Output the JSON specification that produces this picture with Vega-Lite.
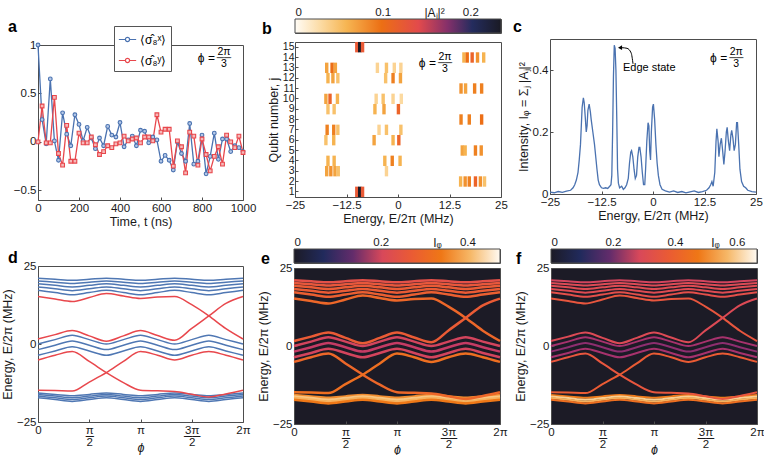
{
  "$schema": "https://vega.github.io/schema/vega-lite/v6.json",
  "background": "white",
  "padding": {"left": 0, "top": 5, "right": 0, "bottom": 1},
  "config": {
    "font": "Liberation Sans",
    "view": {"stroke": "#4d4d4d", "strokeWidth": 1},
    "axis": {"grid": false, "domain": false, "labelFlush": false, "tickSize": -3, "tickColor": "#4d4d4d", "labelPadding": 5, "labelFontSize": 11.5, "labelColor": "#1a1a1a", "titleFontSize": 12.5, "titleFontWeight": "normal", "titleColor": "#1a1a1a", "titlePadding": 2},
    "legend": {"labelFontSize": 12}
  },
  "datasets": {
    "ts": [
      {"t":0,"v":1.0,"s":"x"},{"t":20,"v":0.23,"s":"x"},{"t":40,"v":-0.02,"s":"x"},{"t":60,"v":0.65,"s":"x"},{"t":80,"v":0.01,"s":"x"},{"t":100,"v":-0.19,"s":"x"},{"t":120,"v":0.3,"s":"x"},{"t":140,"v":0.08,"s":"x"},{"t":160,"v":-0.04,"s":"x"},{"t":180,"v":0.28,"s":"x"},{"t":200,"v":0.18,"s":"x"},{"t":220,"v":0.01,"s":"x"},{"t":240,"v":0.15,"s":"x"},{"t":260,"v":0.04,"s":"x"},{"t":280,"v":-0.07,"s":"x"},{"t":300,"v":0.04,"s":"x"},{"t":320,"v":-0.04,"s":"x"},{"t":340,"v":0.16,"s":"x"},{"t":360,"v":0.07,"s":"x"},{"t":380,"v":0.05,"s":"x"},{"t":400,"v":0.2,"s":"x"},{"t":420,"v":-0.05,"s":"x"},{"t":440,"v":0.02,"s":"x"},{"t":460,"v":0.06,"s":"x"},{"t":480,"v":-0.04,"s":"x"},{"t":500,"v":0.12,"s":"x"},{"t":520,"v":0.11,"s":"x"},{"t":540,"v":-0.01,"s":"x"},{"t":560,"v":0.05,"s":"x"},{"t":580,"v":0.02,"s":"x"},{"t":600,"v":-0.2,"s":"x"},{"t":620,"v":-0.14,"s":"x"},{"t":640,"v":-0.19,"s":"x"},{"t":660,"v":-0.29,"s":"x"},{"t":680,"v":0.0,"s":"x"},{"t":700,"v":-0.12,"s":"x"},{"t":720,"v":-0.2,"s":"x"},{"t":740,"v":0.19,"s":"x"},{"t":760,"v":-0.23,"s":"x"},{"t":780,"v":-0.2,"s":"x"},{"t":800,"v":0.07,"s":"x"},{"t":820,"v":-0.33,"s":"x"},{"t":840,"v":-0.15,"s":"x"},{"t":860,"v":0.09,"s":"x"},{"t":880,"v":-0.18,"s":"x"},{"t":900,"v":0.03,"s":"x"},{"t":920,"v":0.03,"s":"x"},{"t":940,"v":-0.1,"s":"x"},{"t":960,"v":-0.04,"s":"x"},{"t":980,"v":-0.06,"s":"x"},{"t":1000,"v":-0.1,"s":"x"},
      {"t":0,"v":0.0,"s":"y"},{"t":20,"v":0.37,"s":"y"},{"t":40,"v":-0.01,"s":"y"},{"t":60,"v":-0.01,"s":"y"},{"t":80,"v":0.46,"s":"y"},{"t":100,"v":-0.12,"s":"y"},{"t":120,"v":-0.24,"s":"y"},{"t":140,"v":0.17,"s":"y"},{"t":160,"v":-0.2,"s":"y"},{"t":180,"v":-0.2,"s":"y"},{"t":200,"v":0.09,"s":"y"},{"t":220,"v":-0.01,"s":"y"},{"t":240,"v":-0.01,"s":"y"},{"t":260,"v":0.05,"s":"y"},{"t":280,"v":-0.03,"s":"y"},{"t":300,"v":-0.13,"s":"y"},{"t":320,"v":-0.1,"s":"y"},{"t":340,"v":-0.04,"s":"y"},{"t":360,"v":-0.06,"s":"y"},{"t":380,"v":-0.02,"s":"y"},{"t":400,"v":-0.01,"s":"y"},{"t":420,"v":0.06,"s":"y"},{"t":440,"v":0.01,"s":"y"},{"t":460,"v":0.03,"s":"y"},{"t":480,"v":0.04,"s":"y"},{"t":500,"v":-0.01,"s":"y"},{"t":520,"v":0.05,"s":"y"},{"t":540,"v":0.05,"s":"y"},{"t":560,"v":0.01,"s":"y"},{"t":580,"v":0.28,"s":"y"},{"t":600,"v":0.1,"s":"y"},{"t":620,"v":0.13,"s":"y"},{"t":640,"v":0.13,"s":"y"},{"t":660,"v":-0.25,"s":"y"},{"t":680,"v":0.01,"s":"y"},{"t":700,"v":-0.05,"s":"y"},{"t":720,"v":-0.32,"s":"y"},{"t":740,"v":0.1,"s":"y"},{"t":760,"v":0.06,"s":"y"},{"t":780,"v":-0.24,"s":"y"},{"t":800,"v":0.03,"s":"y"},{"t":820,"v":-0.13,"s":"y"},{"t":840,"v":-0.3,"s":"y"},{"t":860,"v":-0.15,"s":"y"},{"t":880,"v":-0.05,"s":"y"},{"t":900,"v":-0.23,"s":"y"},{"t":920,"v":0.07,"s":"y"},{"t":940,"v":0.0,"s":"y"},{"t":960,"v":-0.06,"s":"y"},{"t":980,"v":0.06,"s":"y"},{"t":1000,"v":-0.11,"s":"y"}
    ],
    "heat": [
      {"j":15,"e":-10.0,"v":0.12},{"j":15,"e":-9.3,"v":0.235},{"j":15,"e":-8.6,"v":0.12},
      {"j":14,"e":16.0,"v":0.06},{"j":14,"e":16.8,"v":0.1},{"j":14,"e":18.0,"v":0.11},{"j":14,"e":19.3,"v":0.08},{"j":14,"e":20.8,"v":0.06},
      {"j":13,"e":-17.3,"v":0.07},{"j":13,"e":-16.0,"v":0.1},{"j":13,"e":-15.2,"v":0.07},{"j":13,"e":-5.0,"v":0.035},{"j":13,"e":-2.8,"v":0.05},{"j":13,"e":-0.9,"v":0.035},{"j":13,"e":0.7,"v":0.035},
      {"j":12,"e":-17.0,"v":0.06},{"j":12,"e":-15.8,"v":0.07},{"j":12,"e":-14.6,"v":0.05},{"j":12,"e":-3.0,"v":0.05},{"j":12,"e":-1.2,"v":0.09},{"j":12,"e":0.6,"v":0.07},
      {"j":11,"e":15.3,"v":0.08},{"j":11,"e":16.4,"v":0.07},{"j":11,"e":18.6,"v":0.09},{"j":11,"e":20.3,"v":0.09},
      {"j":10,"e":-17.5,"v":0.07},{"j":10,"e":-16.5,"v":0.11},{"j":10,"e":-14.7,"v":0.06},{"j":10,"e":-5.3,"v":0.035},{"j":10,"e":-3.6,"v":0.05},{"j":10,"e":-1.2,"v":0.035},{"j":10,"e":0.8,"v":0.03},
      {"j":9,"e":-17.0,"v":0.05},{"j":9,"e":-15.5,"v":0.05},{"j":9,"e":-5.6,"v":0.06},{"j":9,"e":-3.4,"v":0.07},{"j":9,"e":0.1,"v":0.11},
      {"j":8,"e":15.3,"v":0.09},{"j":8,"e":17.3,"v":0.09},{"j":8,"e":20.3,"v":0.1},
      {"j":7,"e":-17.2,"v":0.09},{"j":7,"e":-15.6,"v":0.09},{"j":7,"e":-14.6,"v":0.05},{"j":7,"e":-4.6,"v":0.035},{"j":7,"e":-2.8,"v":0.05},{"j":7,"e":0.7,"v":0.05},
      {"j":6,"e":-17.5,"v":0.05},{"j":6,"e":-15.6,"v":0.06},{"j":6,"e":-5.8,"v":0.07},{"j":6,"e":-1.2,"v":0.06},{"j":6,"e":0.2,"v":0.11},
      {"j":5,"e":15.6,"v":0.07},{"j":5,"e":16.3,"v":0.06},{"j":5,"e":18.8,"v":0.09},{"j":5,"e":20.2,"v":0.08},
      {"j":4,"e":-17.0,"v":0.06},{"j":4,"e":-15.5,"v":0.06},{"j":4,"e":-3.2,"v":0.06},{"j":4,"e":-1.4,"v":0.09},{"j":4,"e":0.5,"v":0.06},
      {"j":3,"e":-17.3,"v":0.07},{"j":3,"e":-16.3,"v":0.08},{"j":3,"e":-15.3,"v":0.07},{"j":3,"e":-14.5,"v":0.05},{"j":3,"e":-2.8,"v":0.035},
      {"j":2,"e":15.2,"v":0.06},{"j":2,"e":16.3,"v":0.08},{"j":2,"e":17.3,"v":0.09},{"j":2,"e":18.8,"v":0.11},{"j":2,"e":20.0,"v":0.08},{"j":2,"e":21.0,"v":0.05},
      {"j":1,"e":-10.0,"v":0.12},{"j":1,"e":-9.3,"v":0.235},{"j":1,"e":-8.6,"v":0.12}
    ],
    "spec": [
      {"E":-25,"I":0.006},{"E":-24,"I":0.004},{"E":-23,"I":0.008},{"E":-22,"I":0.005},{"E":-21,"I":0.009},{"E":-20,"I":0.012},{"E":-19.4,"I":0.02},{"E":-19,"I":0.03},{"E":-18.6,"I":0.045},{"E":-18.2,"I":0.07},{"E":-17.9,"I":0.11},{"E":-17.6,"I":0.16},{"E":-17.4,"I":0.22},{"E":-17.2,"I":0.28},{"E":-16.9,"I":0.31},{"E":-16.7,"I":0.295},{"E":-16.4,"I":0.24},{"E":-16.2,"I":0.2},{"E":-16.0,"I":0.22},{"E":-15.8,"I":0.27},{"E":-15.5,"I":0.29},{"E":-15.2,"I":0.265},{"E":-15.0,"I":0.24},{"E":-14.6,"I":0.2},{"E":-14.2,"I":0.16},{"E":-13.9,"I":0.12},{"E":-13.6,"I":0.08},{"E":-13.3,"I":0.045},{"E":-13.0,"I":0.03},{"E":-12.5,"I":0.02},{"E":-12,"I":0.018},{"E":-11.5,"I":0.02},{"E":-11,"I":0.018},{"E":-10.5,"I":0.025},{"E":-10.2,"I":0.03},{"E":-10.0,"I":0.06},{"E":-9.8,"I":0.2},{"E":-9.6,"I":0.38},{"E":-9.4,"I":0.48},{"E":-9.2,"I":0.47},{"E":-9.0,"I":0.4},{"E":-8.8,"I":0.25},{"E":-8.6,"I":0.08},{"E":-8.4,"I":0.035},{"E":-8.1,"I":0.02},{"E":-7.6,"I":0.025},{"E":-7.2,"I":0.015},{"E":-6.8,"I":0.02},{"E":-6.4,"I":0.03},{"E":-6.0,"I":0.05},{"E":-5.7,"I":0.1},{"E":-5.4,"I":0.135},{"E":-5.2,"I":0.14},{"E":-4.9,"I":0.12},{"E":-4.6,"I":0.08},{"E":-4.3,"I":0.05},{"E":-4.0,"I":0.06},{"E":-3.7,"I":0.12},{"E":-3.4,"I":0.15},{"E":-3.2,"I":0.15},{"E":-2.9,"I":0.12},{"E":-2.6,"I":0.07},{"E":-2.3,"I":0.03},{"E":-2.0,"I":0.03},{"E":-1.8,"I":0.08},{"E":-1.5,"I":0.17},{"E":-1.2,"I":0.23},{"E":-1.0,"I":0.22},{"E":-0.8,"I":0.14},{"E":-0.6,"I":0.11},{"E":-0.4,"I":0.2},{"E":-0.1,"I":0.28},{"E":0.1,"I":0.29},{"E":0.4,"I":0.24},{"E":0.7,"I":0.16},{"E":1.0,"I":0.1},{"E":1.3,"I":0.06},{"E":1.7,"I":0.03},{"E":2.2,"I":0.015},{"E":3,"I":0.01},{"E":4,"I":0.006},{"E":5,"I":0.01},{"E":6,"I":0.005},{"E":7,"I":0.008},{"E":8,"I":0.004},{"E":9,"I":0.007},{"E":10,"I":0.01},{"E":11,"I":0.005},{"E":12,"I":0.008},{"E":13,"I":0.012},{"E":13.6,"I":0.02},{"E":14.0,"I":0.03},{"E":14.3,"I":0.04},{"E":14.6,"I":0.025},{"E":15.0,"I":0.07},{"E":15.3,"I":0.17},{"E":15.5,"I":0.21},{"E":15.8,"I":0.17},{"E":16.0,"I":0.12},{"E":16.3,"I":0.16},{"E":16.6,"I":0.18},{"E":16.9,"I":0.14},{"E":17.2,"I":0.095},{"E":17.5,"I":0.14},{"E":17.8,"I":0.2},{"E":18.0,"I":0.215},{"E":18.3,"I":0.17},{"E":18.6,"I":0.14},{"E":18.9,"I":0.19},{"E":19.1,"I":0.205},{"E":19.4,"I":0.18},{"E":19.7,"I":0.14},{"E":20.0,"I":0.16},{"E":20.3,"I":0.23},{"E":20.5,"I":0.23},{"E":20.8,"I":0.16},{"E":21.1,"I":0.08},{"E":21.5,"I":0.04},{"E":22,"I":0.025},{"E":22.5,"I":0.02},{"E":23,"I":0.012},{"E":24,"I":0.008},{"E":25,"I":0.006}
    ],
    "arrow": [
      {"E":-7.6,"I":0.472},{"E":-6.3,"I":0.47},{"E":-5.3,"I":0.455},{"E":-4.85,"I":0.42}
    ],
    "lines": [
      {"n":"t1","kind":"bulk","ie":0.24,"iF":0.28},{"n":"t2","kind":"bulk","ie":0.26,"iF":0.3},{"n":"t3","kind":"bulk","ie":0.27,"iF":0.31},{"n":"t4","kind":"bulk","ie":0.27,"iF":0.31},{"n":"t5","kind":"bulk","ie":0.28,"iF":0.33},
      {"n":"m1","kind":"bulk","ie":0.2,"iF":0.24},{"n":"m2","kind":"bulk","ie":0.19,"iF":0.22},{"n":"m3","kind":"bulk","ie":0.2,"iF":0.24},
      {"n":"b1","kind":"bulk","ie":0.36,"iF":0.48},{"n":"b2","kind":"bulk","ie":0.42,"iF":0.6},{"n":"b3","kind":"bulk","ie":0.4,"iF":0.56},{"n":"b4","kind":"bulk","ie":0.34,"iF":0.45},
      {"n":"A","kind":"edge","ie":0.3,"iF":0.36},{"n":"B","kind":"edge","ie":0.27,"iF":0.3},{"n":"C","kind":"edge","ie":0.3,"iF":0.36},{"n":"D","kind":"edge","ie":0.32,"iF":0.38}
    ],
    "bands": [
      {"n":"t1","k":0,"E":21.1},{"n":"t1","k":1,"E":20.75},{"n":"t1","k":2,"E":20.4},{"n":"t1","k":3,"E":20.75},{"n":"t1","k":4,"E":21.1},{"n":"t1","k":5,"E":20.75},{"n":"t1","k":6,"E":20.4},{"n":"t1","k":7,"E":20.75},{"n":"t1","k":8,"E":21.1},{"n":"t1","k":9,"E":20.75},{"n":"t1","k":10,"E":20.4},{"n":"t1","k":11,"E":20.75},{"n":"t1","k":12,"E":21.1},
      {"n":"t2","k":0,"E":20.2},{"n":"t2","k":1,"E":19.8},{"n":"t2","k":2,"E":19.4},{"n":"t2","k":3,"E":19.8},{"n":"t2","k":4,"E":20.2},{"n":"t2","k":5,"E":19.8},{"n":"t2","k":6,"E":19.4},{"n":"t2","k":7,"E":19.8},{"n":"t2","k":8,"E":20.2},{"n":"t2","k":9,"E":19.8},{"n":"t2","k":10,"E":19.4},{"n":"t2","k":11,"E":19.8},{"n":"t2","k":12,"E":20.2},
      {"n":"t3","k":0,"E":19.3},{"n":"t3","k":1,"E":18.8},{"n":"t3","k":2,"E":18.3},{"n":"t3","k":3,"E":18.8},{"n":"t3","k":4,"E":19.3},{"n":"t3","k":5,"E":18.8},{"n":"t3","k":6,"E":18.3},{"n":"t3","k":7,"E":18.8},{"n":"t3","k":8,"E":19.3},{"n":"t3","k":9,"E":18.8},{"n":"t3","k":10,"E":18.3},{"n":"t3","k":11,"E":18.8},{"n":"t3","k":12,"E":19.3},
      {"n":"t4","k":0,"E":18.3},{"n":"t4","k":1,"E":17.7},{"n":"t4","k":2,"E":17.1},{"n":"t4","k":3,"E":17.7},{"n":"t4","k":4,"E":18.3},{"n":"t4","k":5,"E":17.7},{"n":"t4","k":6,"E":17.1},{"n":"t4","k":7,"E":17.7},{"n":"t4","k":8,"E":18.3},{"n":"t4","k":9,"E":17.7},{"n":"t4","k":10,"E":17.1},{"n":"t4","k":11,"E":17.7},{"n":"t4","k":12,"E":18.3},
      {"n":"t5","k":0,"E":17.2},{"n":"t5","k":1,"E":16.5},{"n":"t5","k":2,"E":15.8},{"n":"t5","k":3,"E":16.5},{"n":"t5","k":4,"E":17.2},{"n":"t5","k":5,"E":16.5},{"n":"t5","k":6,"E":15.8},{"n":"t5","k":7,"E":16.5},{"n":"t5","k":8,"E":17.2},{"n":"t5","k":9,"E":16.5},{"n":"t5","k":10,"E":15.8},{"n":"t5","k":11,"E":16.5},{"n":"t5","k":12,"E":17.2},
      {"n":"m1","k":0,"E":0.0},{"n":"m1","k":1,"E":1.4},{"n":"m1","k":2,"E":2.8},{"n":"m1","k":3,"E":1.4},{"n":"m1","k":4,"E":0.0},{"n":"m1","k":5,"E":1.4},{"n":"m1","k":6,"E":2.8},{"n":"m1","k":7,"E":1.4},{"n":"m1","k":8,"E":0.0},{"n":"m1","k":9,"E":1.4},{"n":"m1","k":10,"E":2.8},{"n":"m1","k":11,"E":1.4},{"n":"m1","k":12,"E":0.0},
      {"n":"m2","k":0,"E":-1.8},{"n":"m2","k":1,"E":-0.4},{"n":"m2","k":2,"E":1.0},{"n":"m2","k":3,"E":-0.4},{"n":"m2","k":4,"E":-1.8},{"n":"m2","k":5,"E":-0.4},{"n":"m2","k":6,"E":1.0},{"n":"m2","k":7,"E":-0.4},{"n":"m2","k":8,"E":-1.8},{"n":"m2","k":9,"E":-0.4},{"n":"m2","k":10,"E":1.0},{"n":"m2","k":11,"E":-0.4},{"n":"m2","k":12,"E":-1.8},
      {"n":"m3","k":0,"E":-3.6},{"n":"m3","k":1,"E":-2.25},{"n":"m3","k":2,"E":-0.9},{"n":"m3","k":3,"E":-2.25},{"n":"m3","k":4,"E":-3.6},{"n":"m3","k":5,"E":-2.25},{"n":"m3","k":6,"E":-0.9},{"n":"m3","k":7,"E":-2.25},{"n":"m3","k":8,"E":-3.6},{"n":"m3","k":9,"E":-2.25},{"n":"m3","k":10,"E":-0.9},{"n":"m3","k":11,"E":-2.25},{"n":"m3","k":12,"E":-3.6},
      {"n":"b1","k":0,"E":-15.7},{"n":"b1","k":1,"E":-16.15},{"n":"b1","k":2,"E":-16.6},{"n":"b1","k":3,"E":-16.15},{"n":"b1","k":4,"E":-15.7},{"n":"b1","k":5,"E":-16.15},{"n":"b1","k":6,"E":-16.6},{"n":"b1","k":7,"E":-16.15},{"n":"b1","k":8,"E":-15.7},{"n":"b1","k":9,"E":-16.15},{"n":"b1","k":10,"E":-16.6},{"n":"b1","k":11,"E":-16.15},{"n":"b1","k":12,"E":-15.7},
      {"n":"b2","k":0,"E":-16.2},{"n":"b2","k":1,"E":-16.7},{"n":"b2","k":2,"E":-17.2},{"n":"b2","k":3,"E":-16.7},{"n":"b2","k":4,"E":-16.2},{"n":"b2","k":5,"E":-16.7},{"n":"b2","k":6,"E":-17.2},{"n":"b2","k":7,"E":-16.7},{"n":"b2","k":8,"E":-16.2},{"n":"b2","k":9,"E":-16.7},{"n":"b2","k":10,"E":-17.2},{"n":"b2","k":11,"E":-16.7},{"n":"b2","k":12,"E":-16.2},
      {"n":"b3","k":0,"E":-16.7},{"n":"b3","k":1,"E":-17.25},{"n":"b3","k":2,"E":-17.8},{"n":"b3","k":3,"E":-17.25},{"n":"b3","k":4,"E":-16.7},{"n":"b3","k":5,"E":-17.25},{"n":"b3","k":6,"E":-17.8},{"n":"b3","k":7,"E":-17.25},{"n":"b3","k":8,"E":-16.7},{"n":"b3","k":9,"E":-17.25},{"n":"b3","k":10,"E":-17.8},{"n":"b3","k":11,"E":-17.25},{"n":"b3","k":12,"E":-16.7},
      {"n":"b4","k":0,"E":-17.2},{"n":"b4","k":1,"E":-17.8},{"n":"b4","k":2,"E":-18.4},{"n":"b4","k":3,"E":-17.8},{"n":"b4","k":4,"E":-17.2},{"n":"b4","k":5,"E":-17.8},{"n":"b4","k":6,"E":-18.4},{"n":"b4","k":7,"E":-17.8},{"n":"b4","k":8,"E":-17.2},{"n":"b4","k":9,"E":-17.8},{"n":"b4","k":10,"E":-18.4},{"n":"b4","k":11,"E":-17.8},{"n":"b4","k":12,"E":-17.2},
      {"n":"A","k":0,"E":15.2},{"n":"A","k":1,"E":14.4},{"n":"A","k":2,"E":13.6},{"n":"A","k":3,"E":14.9},{"n":"A","k":4,"E":16.2},{"n":"A","k":5,"E":15.4},{"n":"A","k":6,"E":14.6},{"n":"A","k":7,"E":15.1},{"n":"A","k":8,"E":15.2},{"n":"A","k":9,"E":12.6},{"n":"A","k":10,"E":9.0},{"n":"A","k":11,"E":4.9},{"n":"A","k":12,"E":1.6},
      {"n":"B","k":0,"E":1.6},{"n":"B","k":1,"E":3.0},{"n":"B","k":2,"E":4.3},{"n":"B","k":3,"E":2.6},{"n":"B","k":4,"E":0.9},{"n":"B","k":5,"E":2.6},{"n":"B","k":6,"E":4.3},{"n":"B","k":7,"E":2.7},{"n":"B","k":8,"E":1.2},{"n":"B","k":9,"E":5.0},{"n":"B","k":10,"E":9.0},{"n":"B","k":11,"E":13.0},{"n":"B","k":12,"E":15.2},
      {"n":"C","k":0,"E":-5.1},{"n":"C","k":1,"E":-3.6},{"n":"C","k":2,"E":-2.4},{"n":"C","k":3,"E":-5.6},{"n":"C","k":4,"E":-9.2},{"n":"C","k":5,"E":-12.4},{"n":"C","k":6,"E":-14.8},{"n":"C","k":7,"E":-15.0},{"n":"C","k":8,"E":-15.2},{"n":"C","k":9,"E":-16.1},{"n":"C","k":10,"E":-17.0},{"n":"C","k":11,"E":-16.0},{"n":"C","k":12,"E":-14.8},
      {"n":"D","k":0,"E":-14.8},{"n":"D","k":1,"E":-14.9},{"n":"D","k":2,"E":-15.1},{"n":"D","k":3,"E":-12.2},{"n":"D","k":4,"E":-9.2},{"n":"D","k":5,"E":-5.6},{"n":"D","k":6,"E":-2.4},{"n":"D","k":7,"E":-3.6},{"n":"D","k":8,"E":-5.1},{"n":"D","k":9,"E":-3.6},{"n":"D","k":10,"E":-2.4},{"n":"D","k":11,"E":-3.6},{"n":"D","k":12,"E":-5.1}
    ]
  },
  "vconcat": [
    {
      "spacing": 4,
      "hconcat": [
        {
          "spacing": 3,
          "vconcat": [
            {
              "width": 205, "height": 14,
              "view": {"stroke": null},
              "data": {"values": [{}]},
              "mark": {"type": "text", "fontSize": 16, "fontWeight": "bold", "align": "left", "baseline": "middle", "dy": 1},
              "encoding": {"x": {"datum": -0.146, "type": "quantitative", "scale": {"domain": [0, 1]}, "axis": null}, "text": {"value": "a"}}
            },
            {
              "width": 205, "height": 155,
              "data": {"name": "ts"},
              "layer": [
                {
                  "mark": {"type": "line", "strokeWidth": 1.3},
                  "encoding": {
                    "x": {"field": "t", "type": "quantitative", "scale": {"domain": [0, 1000]}, "axis": {"values": [0, 200, 400, 600, 800, 1000], "format": ".2~f", "title": "Time, t (ns)"}},
                    "y": {"field": "v", "type": "quantitative", "scale": {"domain": [-0.5, 1]}, "axis": {"values": [-0.5, 0, 0.5, 1], "format": ".2~f", "title": null}},
                    "stroke": {"field": "s", "type": "nominal", "scale": {"domain": ["x", "y"], "range": ["#4a72b0", "#e8474c"]}, "legend": null}
                  }
                },
                {
                  "transform": [{"filter": "datum.s == 'x'"}],
                  "mark": {"type": "point", "shape": "circle", "size": 14, "strokeWidth": 1.1, "stroke": "#4a72b0", "fill": "#b4c8e8", "opacity": 1},
                  "encoding": {"x": {"field": "t", "type": "quantitative"}, "y": {"field": "v", "type": "quantitative"}}
                },
                {
                  "transform": [{"filter": "datum.s == 'y'"}],
                  "mark": {"type": "point", "shape": "square", "size": 14, "strokeWidth": 1.1, "stroke": "#e8474c", "fill": "#f5b9b9", "opacity": 1},
                  "encoding": {"x": {"field": "t", "type": "quantitative"}, "y": {"field": "v", "type": "quantitative"}}
                },
                {
                  "mark": {"type": "point", "opacity": 0, "filled": false},
                  "encoding": {
                    "x": {"field": "t", "type": "quantitative"},
                    "y": {"field": "v", "type": "quantitative"},
                    "color": {"field": "s", "type": "nominal", "scale": {"domain": ["x", "y"], "range": ["#4a72b0", "#e8474c"]},
                      "legend": {"orient": "none", "legendX": 76, "legendY": 7, "title": null, "strokeColor": "#555", "fillColor": "white", "padding": 4, "symbolSize": 300, "symbolStrokeWidth": 1.2, "symbolOpacity": 1, "labelOffset": 3, "rowPadding": 5, "labelFontSize": 12,
                        "symbolType": "M-1,0H-0.24M0.24,0H1M0.24,0A0.24,0.24,0,1,1,-0.24,0A0.24,0.24,0,1,1,0.24,0",
                        "labelExpr": "datum.label == 'x' ? '⟨σ̂₈ˣ⟩' : '⟨σ̂₈ʸ⟩'",
                        "encode": {"symbols": {"update": {"shape": {"signal": "datum.value == 'x' ? 'M-1,0H-0.24M0.24,0H1M0.24,0A0.24,0.24,0,1,1,-0.24,0A0.24,0.24,0,1,1,0.24,0' : 'M-1,0H-0.22M0.22,0H1M-0.22,-0.22H0.22V0.22H-0.22Z'"}}}}}}
                  }
                },
                {
                  "data": {"values": [{}]},
                  "mark": {"type": "text", "fontSize": 12, "align": "right", "baseline": "middle"},
                  "encoding": {"x": {"datum": 863}, "y": {"datum": 0.87}, "text": {"value": "ϕ ="}}
                },
                {
                  "data": {"values": [{}]},
                  "mark": {"type": "text", "fontSize": 10.5, "align": "center", "baseline": "middle", "lineHeight": 12, "dy": -6},
                  "encoding": {"x": {"datum": 907}, "y": {"datum": 0.87}, "text": {"value": ["2π", "3"]}}
                },
                {
                  "data": {"values": [{}]},
                  "mark": {"type": "text", "fontSize": 10, "align": "center", "baseline": "middle"},
                  "encoding": {"x": {"datum": 907}, "y": {"datum": 0.87}, "text": {"value": "──"}}
                }
              ]
            }
          ]
        },
        {
          "spacing": 3,
          "vconcat": [
            {
              "width": 206, "height": 14,
              "layer": [
                {
                  "data": {"values": [{"lo": 0, "hi": 0.235}]},
                  "mark": {"type": "rect", "stroke": "#4d4d4d", "strokeWidth": 1, "fill": {"gradient": "linear", "x1": 0, "y1": 0, "x2": 1, "y2": 0, "stops": [
                    {"offset": 0, "color": "#fffcf6"}, {"offset": 0.12, "color": "#fcdca6"}, {"offset": 0.25, "color": "#f6b552"}, {"offset": 0.42, "color": "#ec6f14"}, {"offset": 0.6, "color": "#e24a4c"}, {"offset": 0.74, "color": "#85306a"}, {"offset": 0.86, "color": "#242c5e"}, {"offset": 1, "color": "#1a1a24"}]}},
                  "encoding": {
                    "x": {"field": "lo", "type": "quantitative", "scale": {"domain": [0, 0.235], "nice": false}, "axis": {"orient": "top", "values": [0, 0.1, 0.2], "format": ".2~f", "ticks": false, "labelPadding": 2, "labelFlush": true, "title": "|Aⱼ|²", "titleX": 139, "titleY": -3, "titleBaseline": "alphabetic", "titleFontSize": 12}},
                    "x2": {"field": "hi"}
                  }
                },
                {
                  "data": {"values": [{}]},
                  "mark": {"type": "text", "fontSize": 16, "fontWeight": "bold", "align": "left", "baseline": "middle", "dy": 3},
                  "encoding": {"x": {"datum": -0.0376, "type": "quantitative"}, "text": {"value": "b"}}
                }
              ]
            },
            {
              "width": 206, "height": 155,
              "data": {"name": "heat"},
              "layer": [
                {
                  "mark": {"type": "tick", "thickness": 3.4, "opacity": 1},
                  "encoding": {
                    "x": {"field": "e", "type": "quantitative", "scale": {"domain": [-25, 25]}, "axis": {"values": [-25, -12.5, 0, 12.5, 25], "format": ".2~f", "title": "Energy, E/2π (MHz)"}},
                    "y": {"field": "j", "type": "ordinal", "scale": {"domain": [15, 14, 13, 12, 11, 10, 9, 8, 7, 6, 5, 4, 3, 2, 1], "paddingInner": 0, "paddingOuter": 0}, "axis": {"title": "Qubit number, j", "labelPadding": 4, "labelFontSize": 10.5}},
                    "color": {"field": "v", "type": "quantitative", "scale": {"domain": [0, 0.028, 0.059, 0.099, 0.141, 0.174, 0.202, 0.235], "range": ["#fffcf6", "#fcdca6", "#f6b552", "#ec6f14", "#e24a4c", "#85306a", "#242c5e", "#1a1a24"]}, "legend": null},
                    "size": {"value": 10.4}
                  }
                },
                {
                  "data": {"values": [{}]},
                  "mark": {"type": "text", "fontSize": 12, "align": "right", "baseline": "middle", "dy": 5},
                  "encoding": {"x": {"datum": 9.2}, "y": {"datum": 14, "type": "ordinal"}, "text": {"value": "ϕ ="}}
                },
                {
                  "data": {"values": [{}]},
                  "mark": {"type": "text", "fontSize": 10.5, "align": "center", "baseline": "middle", "lineHeight": 12, "dy": -1},
                  "encoding": {"x": {"datum": 11.4}, "y": {"datum": 14, "type": "ordinal"}, "text": {"value": ["2π", "3"]}}
                },
                {
                  "data": {"values": [{}]},
                  "mark": {"type": "text", "fontSize": 10, "align": "center", "baseline": "middle", "dy": 5},
                  "encoding": {"x": {"datum": 11.4}, "y": {"datum": 14, "type": "ordinal"}, "text": {"value": "──"}}
                }
              ]
            }
          ]
        },
        {
          "spacing": 3,
          "vconcat": [
            {
              "width": 206, "height": 14,
              "view": {"stroke": null},
              "data": {"values": [{}]},
              "mark": {"type": "text", "fontSize": 16, "fontWeight": "bold", "align": "left", "baseline": "middle", "dy": 1},
              "encoding": {"x": {"datum": -0.18, "type": "quantitative", "scale": {"domain": [0, 1]}, "axis": null}, "text": {"value": "c"}}
            },
            {
              "width": 206, "height": 155,
              "layer": [
                {
                  "data": {"name": "spec"},
                  "mark": {"type": "line", "strokeWidth": 1.3, "color": "#4a72b0"},
                  "encoding": {
                    "x": {"field": "E", "type": "quantitative", "scale": {"domain": [-25, 25]}, "axis": {"values": [-25, -12.5, 0, 12.5, 25], "format": ".2~f", "title": "Energy, E/2π (MHz)"}},
                    "y": {"field": "I", "type": "quantitative", "scale": {"domain": [0, 0.5]}, "axis": {"values": [0, 0.1, 0.2, 0.3, 0.4, 0.5], "format": ".2~f", "title": "Intensity, Iᵩ = Σⱼ |Aⱼ|²"}}
                  }
                },
                {
                  "data": {"name": "arrow"},
                  "mark": {"type": "line", "interpolate": "monotone", "color": "black", "strokeWidth": 1},
                  "encoding": {"x": {"field": "E", "type": "quantitative"}, "y": {"field": "I", "type": "quantitative"}}
                },
                {
                  "data": {"values": [{}]},
                  "mark": {"type": "point", "shape": "triangle-left", "size": 22, "filled": true, "color": "black", "opacity": 1},
                  "encoding": {"x": {"datum": -8.0}, "y": {"datum": 0.472}}
                },
                {
                  "data": {"values": [{}]},
                  "mark": {"type": "text", "fontSize": 11, "align": "left", "baseline": "middle"},
                  "encoding": {"x": {"datum": -7.3}, "y": {"datum": 0.405}, "text": {"value": "Edge state"}}
                },
                {
                  "data": {"values": [{}]},
                  "mark": {"type": "text", "fontSize": 12, "align": "right", "baseline": "middle"},
                  "encoding": {"x": {"datum": 18.0}, "y": {"datum": 0.44}, "text": {"value": "ϕ ="}}
                },
                {
                  "data": {"values": [{}]},
                  "mark": {"type": "text", "fontSize": 10.5, "align": "center", "baseline": "middle", "lineHeight": 12, "dy": -6},
                  "encoding": {"x": {"datum": 20.2}, "y": {"datum": 0.44}, "text": {"value": ["2π", "3"]}}
                },
                {
                  "data": {"values": [{}]},
                  "mark": {"type": "text", "fontSize": 10, "align": "center", "baseline": "middle"},
                  "encoding": {"x": {"datum": 20.2}, "y": {"datum": 0.44}, "text": {"value": "──"}}
                }
              ]
            }
          ]
        }
      ]
    },
    {
      "spacing": 5,
      "hconcat": [
        {
          "spacing": -12,
          "vconcat": [
            {
              "width": 205, "height": 14,
              "view": {"stroke": null},
              "data": {"values": [{}]},
              "mark": {"type": "text", "fontSize": 16, "fontWeight": "bold", "align": "left", "baseline": "middle", "dy": 2},
              "encoding": {"x": {"datum": -0.146, "type": "quantitative", "scale": {"domain": [0, 1]}, "axis": null}, "text": {"value": "d"}}
            },
            {
              "width": 205, "height": 156,
              "data": {"name": "bands"},
              "transform": [{"lookup": "n", "from": {"data": {"name": "lines"}, "key": "n", "fields": ["kind", "ie", "iF"]}}],
              "mark": {"type": "line", "interpolate": "monotone", "strokeWidth": 1.5},
              "encoding": {
                "x": {"field": "k", "type": "quantitative", "scale": {"domain": [0, 12]}, "axis": {"values": [0, 3, 6, 9, 12], "labelLineHeight": 6, "labelExpr": "datum.value == 3 ? ['π','─','2'] : datum.value == 6 ? 'π' : datum.value == 9 ? ['3π','──','2'] : datum.value == 12 ? '2π' : '0'", "title": "ϕ", "titleFontStyle": "italic", "titlePadding": -6}},
                "y": {"field": "E", "type": "quantitative", "scale": {"domain": [-25, 25]}, "axis": {"values": [-25, 0, 25], "format": ".2~f", "title": "Energy, E/2π (MHz)"}},
                "color": {"field": "kind", "type": "nominal", "scale": {"domain": ["bulk", "edge"], "range": ["#4f77b3", "#e8474c"]}, "legend": null},
                "detail": {"field": "n"}
              }
            }
          ]
        },
        {
          "spacing": -12,
          "vconcat": [
            {
              "width": 206, "height": 14,
              "layer": [
                {
                  "data": {"values": [{"lo": 0, "hi": 0.475}]},
                  "mark": {"type": "rect", "stroke": "#4d4d4d", "strokeWidth": 1, "fill": {"gradient": "linear", "x1": 0, "y1": 0, "x2": 1, "y2": 0, "stops": [
                    {"offset": 0, "color": "#1c1b26"}, {"offset": 0.143, "color": "#212a5c"}, {"offset": 0.286, "color": "#632c6b"}, {"offset": 0.429, "color": "#d8485a"}, {"offset": 0.571, "color": "#ea5b34"}, {"offset": 0.714, "color": "#ef7716"}, {"offset": 0.857, "color": "#f6b868"}, {"offset": 1, "color": "#fffaf2"}]}},
                  "encoding": {
                    "x": {"field": "lo", "type": "quantitative", "scale": {"domain": [0, 0.475], "nice": false}, "axis": {"orient": "top", "values": [0, 0.2, 0.4], "format": ".2~f", "ticks": false, "labelPadding": 2, "labelFlush": true, "title": "Iᵩ", "titleX": 143, "titleY": -3, "titleBaseline": "alphabetic", "titleFontSize": 12}},
                    "x2": {"field": "hi"}
                  }
                },
                {
                  "data": {"values": [{}]},
                  "mark": {"type": "text", "fontSize": 16, "fontWeight": "bold", "align": "left", "baseline": "middle", "dy": 3},
                  "encoding": {"x": {"datum": -0.0761, "type": "quantitative"}, "text": {"value": "e"}}
                }
              ]
            },
            {
              "width": 206, "height": 156,
              "view": {"fill": "#1c1b26"},
              "data": {"name": "bands"},
              "transform": [{"lookup": "n", "from": {"data": {"name": "lines"}, "key": "n", "fields": ["kind", "ie", "iF"]}}],
              "mark": {"type": "line", "interpolate": "monotone", "strokeWidth": 2.5},
              "encoding": {
                "x": {"field": "k", "type": "quantitative", "scale": {"domain": [0, 12]}, "axis": {"values": [0, 3, 6, 9, 12], "labelLineHeight": 6, "labelExpr": "datum.value == 3 ? ['π','─','2'] : datum.value == 6 ? 'π' : datum.value == 9 ? ['3π','──','2'] : datum.value == 12 ? '2π' : '0'", "title": "ϕ", "titleFontStyle": "italic", "titlePadding": -6}},
                "y": {"field": "E", "type": "quantitative", "scale": {"domain": [-25, 25]}, "axis": {"values": [-25, 0, 25], "format": ".2~f", "title": "Energy, E/2π (MHz)"}},
                "color": {"field": "ie", "type": "quantitative", "scale": {"domain": [0, 0.068, 0.136, 0.204, 0.271, 0.339, 0.407, 0.475], "range": ["#1c1b26", "#212a5c", "#632c6b", "#d8485a", "#ea5b34", "#ef7716", "#f6b868", "#fffaf2"]}, "legend": null},
                "detail": {"field": "n"}
              }
            }
          ]
        },
        {
          "spacing": -12,
          "vconcat": [
            {
              "width": 206, "height": 14,
              "layer": [
                {
                  "data": {"values": [{"lo": 0, "hi": 0.665}]},
                  "mark": {"type": "rect", "stroke": "#4d4d4d", "strokeWidth": 1, "fill": {"gradient": "linear", "x1": 0, "y1": 0, "x2": 1, "y2": 0, "stops": [
                    {"offset": 0, "color": "#1c1b26"}, {"offset": 0.143, "color": "#212a5c"}, {"offset": 0.286, "color": "#632c6b"}, {"offset": 0.429, "color": "#d8485a"}, {"offset": 0.571, "color": "#ea5b34"}, {"offset": 0.714, "color": "#ef7716"}, {"offset": 0.857, "color": "#f6b868"}, {"offset": 1, "color": "#fffaf2"}]}},
                  "encoding": {
                    "x": {"field": "lo", "type": "quantitative", "scale": {"domain": [0, 0.665], "nice": false}, "axis": {"orient": "top", "values": [0, 0.2, 0.4, 0.6], "format": ".2~f", "ticks": false, "labelPadding": 2, "labelFlush": true, "title": "Iᵩ", "titleX": 164, "titleY": -3, "titleBaseline": "alphabetic", "titleFontSize": 12}},
                    "x2": {"field": "hi"}
                  }
                },
                {
                  "data": {"values": [{}]},
                  "mark": {"type": "text", "fontSize": 16, "fontWeight": "bold", "align": "left", "baseline": "middle", "dy": 3},
                  "encoding": {"x": {"datum": -0.113, "type": "quantitative"}, "text": {"value": "f"}}
                }
              ]
            },
            {
              "width": 206, "height": 156,
              "view": {"fill": "#1c1b26"},
              "data": {"name": "bands"},
              "transform": [{"lookup": "n", "from": {"data": {"name": "lines"}, "key": "n", "fields": ["kind", "ie", "iF"]}}],
              "mark": {"type": "line", "interpolate": "monotone", "strokeWidth": 2.0},
              "encoding": {
                "x": {"field": "k", "type": "quantitative", "scale": {"domain": [0, 12]}, "axis": {"values": [0, 3, 6, 9, 12], "labelLineHeight": 6, "labelExpr": "datum.value == 3 ? ['π','─','2'] : datum.value == 6 ? 'π' : datum.value == 9 ? ['3π','──','2'] : datum.value == 12 ? '2π' : '0'", "title": "ϕ", "titleFontStyle": "italic", "titlePadding": -6}},
                "y": {"field": "E", "type": "quantitative", "scale": {"domain": [-25, 25]}, "axis": {"values": [-25, 0, 25], "format": ".2~f", "title": "Energy, E/2π (MHz)"}},
                "color": {"field": "iF", "type": "quantitative", "scale": {"domain": [0, 0.095, 0.19, 0.285, 0.38, 0.475, 0.57, 0.665], "range": ["#1c1b26", "#212a5c", "#632c6b", "#d8485a", "#ea5b34", "#ef7716", "#f6b868", "#fffaf2"]}, "legend": null},
                "detail": {"field": "n"}
              }
            }
          ]
        }
      ]
    }
  ],
  "spacing": 6
}
